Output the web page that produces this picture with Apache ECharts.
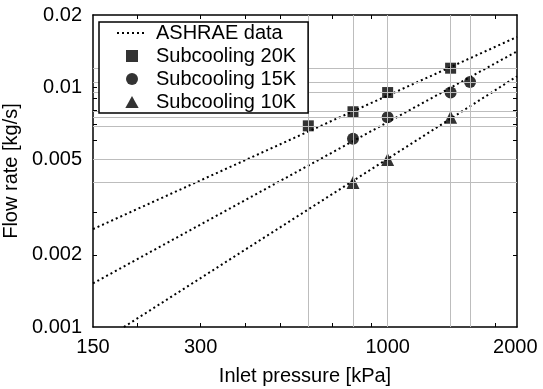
<!DOCTYPE html>
<html>
<head>
<meta charset="utf-8">
<script src="https://cdn.jsdelivr.net/npm/echarts@6/dist/echarts.min.js"></script>
<style>
html,body{margin:0;padding:0;background:#fff;}
#chart{width:543px;height:389px;}
</style>
</head>
<body>
<div id="chart"></div>
<script>
// ---- data ----
const ashraeLine1 = [[150, 0.00256], [2300, 0.0162]];
const ashraeLine2 = [[150, 0.00152], [2300, 0.0141]];
const ashraeLine3 = [[183, 0.001], [2300, 0.0111]];

const pressure20 = [600, 800, 1000, 1500];
const flow20 = [0.0069, 0.0079, 0.0095, 0.012];
const pressure15 = [800, 1000, 1500, 1700];
const flow15 = [0.0061, 0.0075, 0.0095, 0.0105];
const pressure10 = [800, 1000, 1500];
const flow10 = [0.0040, 0.0050, 0.0075];

const guideX = [600, 800, 1000, 1500, 1700];
const guideY = [0.012, 0.0105, 0.0095, 0.0079, 0.0075, 0.0069, 0.005, 0.004];

const xRange = [150, 2300];
const yRange = [0.001, 0.02];
const xLabels = [150, 300, 1000, 2000];
const xTicks = [200, 300, 400, 500, 600, 700, 800, 900, 1000, 2000];
const yLabels = [0.001, 0.002, 0.005, 0.01, 0.02];
const yTicks = [0.002, 0.003, 0.004, 0.005, 0.006, 0.007, 0.008, 0.009, 0.01];

const seriesNames = ['ASHRAE data', 'Subcooling 20K', 'Subcooling 15K', 'Subcooling 10K'];
const xTitle = 'Inlet pressure [kPa]';
const yTitle = 'Flow rate [kg/s]';

// ---- chart ----
const FONT = 'Liberation Sans, Arial, sans-serif';
const zip = (xs, ys) => xs.map((x, i) => [x, ys[i]]);
const axisLine = { show: true, onZero: false, lineStyle: { color: '#000', width: 1.5 } };
const tickStyle = { color: '#000', width: 1 };
const SQUARE = 'path://M0,0L10,0L10,10L0,10Z';
const TRIANGLE = 'path://M5,0L10,9L0,9Z';

const chart = echarts.init(document.getElementById('chart'), null, { renderer: 'canvas' });
const dotted = { color: '#000', width: 2, type: [2, 3], cap: 'butt' };

const guideLines = guideX.map(v => [{ coord: [v, yRange[0]] }, { coord: [v, yRange[1]] }])
  .concat(guideY.map(v => [{ coord: [xRange[0], v] }, { coord: [xRange[1], v] }]));

chart.setOption({
  animation: false,
  backgroundColor: '#fff',
  textStyle: { fontFamily: FONT },
  grid: { left: 93, right: 26, top: 15, bottom: 62, containLabel: false, outerBoundsMode: 'none' },
  legend: {
    data: [
      { name: seriesNames[0], itemStyle: { opacity: 0 } },
      { name: seriesNames[1], icon: SQUARE },
      { name: seriesNames[2], icon: 'circle' },
      { name: seriesNames[3], icon: TRIANGLE }
    ],
    orient: 'vertical',
    left: 99, top: 22,
    padding: [1, 12, 1, 17],
    itemGap: 3,
    itemWidth: 30, itemHeight: 12,
    symbolKeepAspect: true,
    backgroundColor: '#fff',
    borderColor: '#000', borderWidth: 1.5, borderRadius: 0,
    textStyle: { fontSize: 20, color: '#000', fontFamily: FONT, padding: [0, 0, 0, 4] },
    z: 10
  },
  xAxis: [{
    type: 'log', logBase: 10, min: xRange[0], max: xRange[1], position: 'bottom',
    axisLine: axisLine,
    axisTick: { show: true, inside: true, length: 4, lineStyle: tickStyle, customValues: xTicks },
    axisLabel: {
      show: true, customValues: xLabels, fontSize: 20, color: '#000', margin: 10, fontFamily: FONT,
      formatter: v => (v === 2000 ? '{r|' + v + '}' : String(v)),
      rich: { r: { fontSize: 20, color: '#000', fontFamily: FONT, padding: [0, 0, 0, 40] } }
    },
    splitLine: { show: false }, minorTick: { show: false },
    name: xTitle, nameLocation: 'middle', nameGap: 39,
    nameTextStyle: { fontSize: 20, color: '#000', fontFamily: FONT }
  }, {
    type: 'log', logBase: 10, min: xRange[0], max: xRange[1], position: 'top',
    axisLine: axisLine,
    axisTick: { show: true, inside: true, length: 4, lineStyle: tickStyle, customValues: xTicks },
    axisLabel: { show: false }, splitLine: { show: false }
  }],
  yAxis: [{
    type: 'log', logBase: 10, min: yRange[0], max: yRange[1], position: 'left',
    axisLine: axisLine,
    axisTick: { show: true, inside: true, length: 4, lineStyle: tickStyle, customValues: yTicks },
    axisLabel: {
      show: true, customValues: yLabels, fontSize: 20, color: '#000', margin: 11, fontFamily: FONT,
      formatter: v => String(v)
    },
    splitLine: { show: false },
    name: yTitle, nameLocation: 'middle', nameGap: 62, nameRotate: 90,
    nameTextStyle: { fontSize: 20, color: '#000', fontFamily: FONT }
  }, {
    type: 'log', logBase: 10, min: yRange[0], max: yRange[1], position: 'right',
    axisLine: axisLine,
    axisTick: { show: true, inside: true, length: 4, lineStyle: tickStyle, customValues: yTicks },
    axisLabel: { show: false }, splitLine: { show: false }
  }],
  series: [
    {
      name: 'guides', type: 'line', data: [], z: 1, silent: true,
      markLine: {
        silent: true, symbol: ['none', 'none'], label: { show: false },
        lineStyle: { color: '#bdbdbd', width: 1, type: 'solid' },
        emphasis: { disabled: true },
        animation: false,
        data: guideLines
      }
    },
    { name: 'ASHRAE data', type: 'line', data: ashraeLine1, symbol: 'none', showSymbol: false, lineStyle: dotted, itemStyle: { color: '#000' }, z: 3 },
    { name: 'ASHRAE data', type: 'line', data: ashraeLine2, symbol: 'none', showSymbol: false, lineStyle: dotted, itemStyle: { color: '#000' }, z: 3 },
    { name: 'ASHRAE data', type: 'line', data: ashraeLine3, symbol: 'none', showSymbol: false, lineStyle: dotted, itemStyle: { color: '#000' }, z: 3 },
    { name: 'Subcooling 20K', type: 'scatter', data: zip(pressure20, flow20), symbol: 'rect', symbolSize: 11, itemStyle: { color: '#000' }, z: 4 },
    { name: 'Subcooling 15K', type: 'scatter', data: zip(pressure15, flow15), symbol: 'circle', symbolSize: 12, itemStyle: { color: '#000' }, z: 4 },
    { name: 'Subcooling 10K', type: 'scatter', data: zip(pressure10, flow10), symbol: 'triangle', symbolSize: 13, itemStyle: { color: '#000' }, z: 4 }
  ]
});
</script>
</body>
</html>
